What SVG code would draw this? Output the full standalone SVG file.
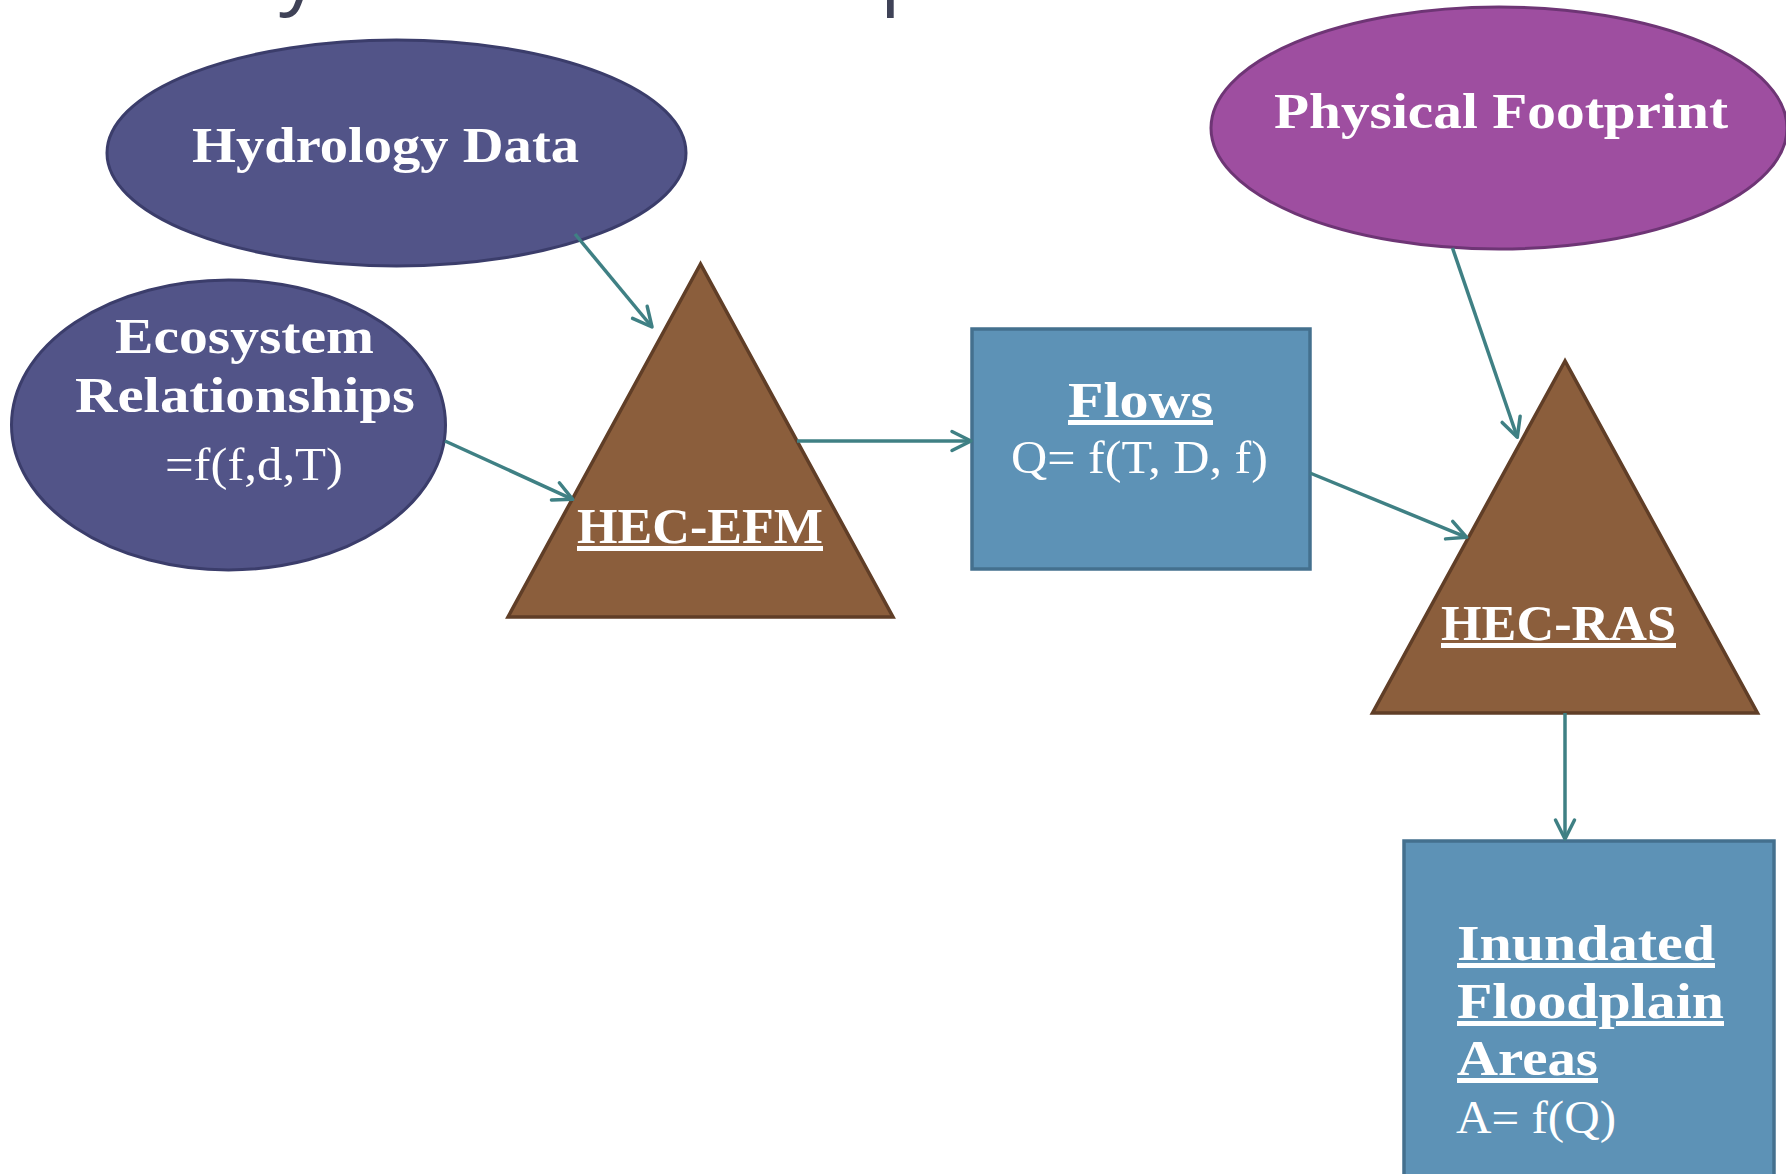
<svg xmlns="http://www.w3.org/2000/svg" width="1786" height="1174" viewBox="0 0 1786 1174">
  <style>
    .ell-blue { fill: #525488; stroke: #3b3d6b; stroke-width: 3; }
    .ell-purple { fill: #9e4ea0; stroke: #6e3575; stroke-width: 3; }
    .tri { fill: #8b5e3c; stroke: #603e27; stroke-width: 3.5; stroke-linejoin: miter; }
    .box { fill: #5d92b6; stroke: #44708e; stroke-width: 3.5; }
    .b { font-family: "Liberation Serif", "Times New Roman", serif; font-weight: bold; font-size: 50px; fill: #ffffff; }
    .r { font-family: "Liberation Serif", "Times New Roman", serif; font-size: 46px; fill: #ffffff; }
    .u { text-decoration: underline; }
    .title { font-family: "Open Sans", "Liberation Sans", sans-serif; font-size: 82px; fill: #3f4257; }
    .conn line { stroke: #3f8084; stroke-width: 3.5; }
  </style>
  <defs>
    <marker id="arr" markerUnits="userSpaceOnUse" orient="auto" markerWidth="40" markerHeight="40" viewBox="-25 -20 40 40" refX="0" refY="0" overflow="visible">
      <path d="M-19,-9.5 L0,0 L-19,9.5" fill="none" stroke="#3f8084" stroke-width="3.5" stroke-linecap="round" stroke-linejoin="round"/>
    </marker>
  </defs>

  <g id="title-fragments">
    <text class="title" x="279" y="-2">y</text>
    <text class="title" x="880" y="-2">p</text>
  </g>

  <g id="hydrology-data">
    <ellipse class="ell-blue" cx="396.5" cy="153" rx="289.5" ry="113"/>
    <text class="b" x="192" y="162" textLength="387" lengthAdjust="spacingAndGlyphs">Hydrology Data</text>
  </g>

  <g id="physical-footprint">
    <ellipse class="ell-purple" cx="1499" cy="128" rx="288" ry="121"/>
    <text class="b" x="1274" y="128" textLength="454" lengthAdjust="spacingAndGlyphs">Physical Footprint</text>
  </g>

  <g id="ecosystem-relationships">
    <ellipse class="ell-blue" cx="228.5" cy="425" rx="217" ry="145"/>
    <text class="b" x="115" y="353" textLength="259" lengthAdjust="spacingAndGlyphs">Ecosystem</text>
    <text class="b" x="75" y="412" textLength="340" lengthAdjust="spacingAndGlyphs">Relationships</text>
    <text class="r" x="165" y="480" textLength="178" lengthAdjust="spacingAndGlyphs">=f(f,d,T)</text>
  </g>

  <g id="hec-efm">
    <polygon class="tri" points="700.5,264 508,617 893,617"/>
    <text class="b u" x="577" y="543" font-size="48" textLength="246" lengthAdjust="spacingAndGlyphs">HEC-EFM</text>
  </g>

  <g id="flows">
    <rect class="box" x="972" y="329" width="338" height="240"/>
    <text class="b u" x="1068" y="417" textLength="145" lengthAdjust="spacingAndGlyphs">Flows</text>
    <text class="r" x="1011" y="473" textLength="257" lengthAdjust="spacingAndGlyphs">Q= f(T, D, f)</text>
  </g>

  <g id="hec-ras">
    <polygon class="tri" points="1565,361 1372.5,713 1757.5,713"/>
    <text class="b u" x="1441" y="640" font-size="48" textLength="235" lengthAdjust="spacingAndGlyphs">HEC-RAS</text>
  </g>

  <g id="inundated-floodplain-areas">
    <rect class="box" x="1404" y="841" width="370" height="360"/>
    <text class="b u" x="1457" y="960" textLength="258" lengthAdjust="spacingAndGlyphs">Inundated</text>
    <text class="b u" x="1457" y="1018" textLength="267" lengthAdjust="spacingAndGlyphs">Floodplain</text>
    <text class="b u" x="1457" y="1075" textLength="141" lengthAdjust="spacingAndGlyphs">Areas</text>
    <text class="r" x="1456" y="1133" textLength="160" lengthAdjust="spacingAndGlyphs">A= f(Q)</text>
  </g>

  <g id="connectors" class="conn">
    <line x1="575" y1="234" x2="652" y2="327" marker-end="url(#arr)"/>
    <line x1="445" y1="441" x2="572.7" y2="499.3" marker-end="url(#arr)"/>
    <line x1="797" y1="441" x2="971" y2="441" marker-end="url(#arr)"/>
    <line x1="1310" y1="473" x2="1466.7" y2="537.3" marker-end="url(#arr)"/>
    <line x1="1452.5" y1="248" x2="1517.3" y2="437.3" marker-end="url(#arr)"/>
    <line x1="1565" y1="713" x2="1565" y2="839" marker-end="url(#arr)"/>
  </g>
</svg>
